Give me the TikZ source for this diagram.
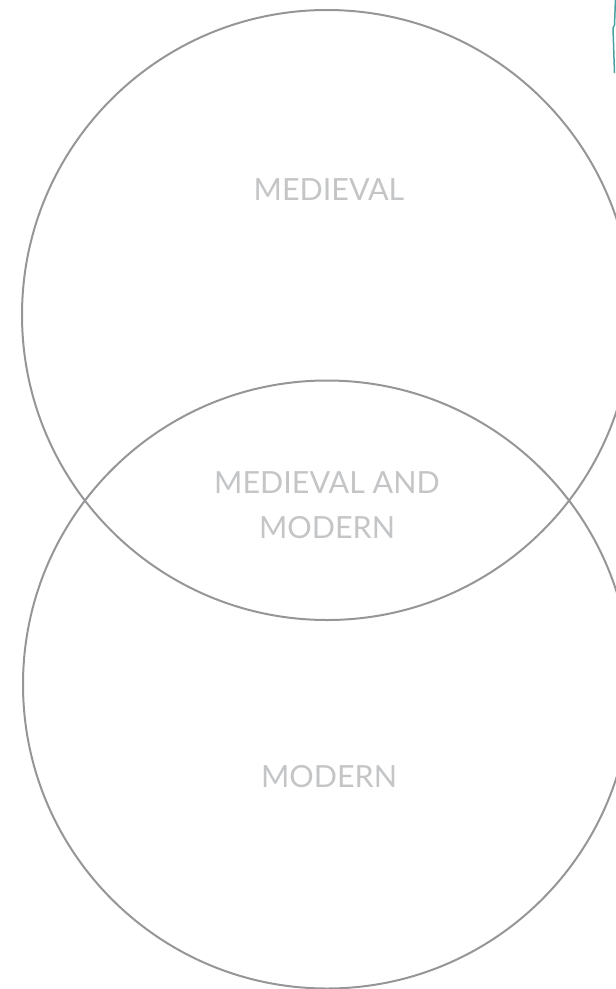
\documentclass[tikz,border=0pt]{standalone}
\usepackage{fontspec}
\setmainfont{Lato}
\definecolor{ringgray}{RGB}{150,150,152}
\definecolor{labelgray}{RGB}{196,197,199}
\definecolor{tealline}{RGB}{72,160,160}
\begin{document}
\begin{tikzpicture}[x=1pt,y=-1pt,
  ring/.style={draw=ringgray,line width=2pt},
  lbl/.style={text=labelgray,font=\fontsize{30.5}{45}\selectfont,align=center,inner sep=0pt}]
\useasboundingbox (0,0) rectangle (616,989);
\draw[ring] (327,315) circle[radius=305];
\draw[ring] (327,684.5) circle[radius=304];
\node[lbl] (med) at (329,190) {MEDIEVAL};
\node[lbl] (both) at (327,505) {MEDIEVAL AND\\MODERN};
\node[lbl] (mod) at (329,777) {MODERN};
\draw[tealline,line width=1.5pt] (615.5,-2) -- (614.5,25) -- (613,28) -- (614.5,73);
\end{tikzpicture}
\end{document}
